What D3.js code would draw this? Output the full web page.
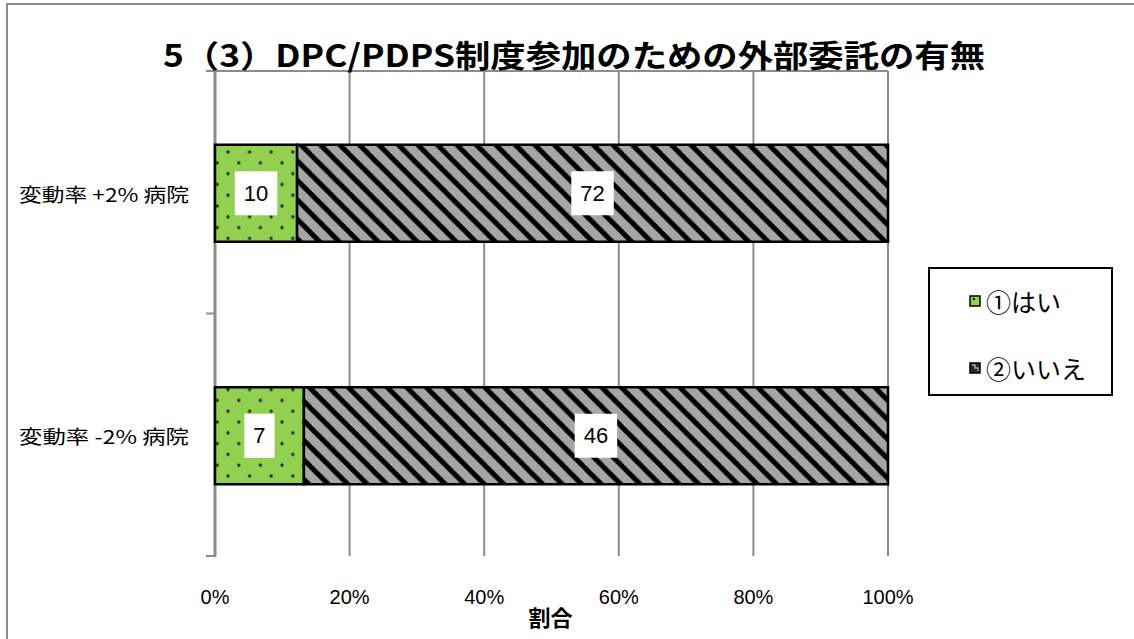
<!DOCTYPE html>
<html>
<head>
<meta charset="utf-8">
<script src="https://cdn.jsdelivr.net/npm/d3@7"></script>
<style>
  html, body { margin: 0; padding: 0; background: #fff; }
  svg { display: block; }
</style>
</head>
<body>
<svg id="chart" width="1134" height="639"></svg>
<script>
// Survey answers: hospitals outsourcing work for DPC/PDPS participation
const chartTitle = "5（3）DPC/PDPS制度参加のための外部委託の有無";
const categories = ["変動率 +2% 病院", "変動率 -2% 病院"];
const seriesNames = ["①はい", "②いいえ"];
const yesCounts = [10, 7];
const noCounts = [72, 46];
const tickValues = [0, 0.2, 0.4, 0.6, 0.8, 1.0];
const xAxisTitle = "割合";

const svg = d3.select("#chart");
const W = 1134, H = 639;
const plot = { left: 215, right: 888, top: 71, bottom: 556 };
const gridColor = "#8c8c8c";
const latin = "'Liberation Sans', Arial, sans-serif";
const cjk = "'Noto Sans CJK JP', 'Noto Sans', sans-serif";

// Fill patterns
const defs = svg.append("defs");
const dots = defs.append("pattern")
  .attr("id", "dots").attr("patternUnits", "userSpaceOnUse")
  .attr("width", 21.6).attr("height", 21.6).attr("x", 228).attr("y", 152);
dots.append("rect").attr("width", 21.6).attr("height", 21.6).attr("fill", "#92D050");
[[0, 0], [21.6, 0], [0, 21.6], [21.6, 21.6], [10.8, 10.8]].forEach(([cx, cy]) =>
  dots.append("circle").attr("cx", cx).attr("cy", cy).attr("r", 1.6).attr("fill", "#1f2a14"));

const P = 19.5;
const stripes = defs.append("pattern")
  .attr("id", "stripes").attr("patternUnits", "userSpaceOnUse")
  .attr("width", P).attr("height", P);
stripes.append("rect").attr("width", P).attr("height", P).attr("fill", "#a6a6a6");
[[-P, 0], [0, 0], [P, 0]].forEach(([dx]) =>
  stripes.append("line")
    .attr("x1", dx - 2).attr("y1", -2).attr("x2", dx + P + 2).attr("y2", P + 2)
    .attr("stroke", "#000").attr("stroke-width", 5));

// Outer chart frame
svg.append("rect").attr("x", 7).attr("y", 4).attr("width", W + 20).attr("height", H + 20)
  .attr("fill", "#fff").attr("stroke", gridColor).attr("stroke-width", 2);

// Scales
const x = d3.scaleLinear().domain([0, 1]).range([plot.left, plot.right]);
const y = d3.scaleBand().domain(categories).range([plot.top, plot.bottom])
  .paddingInner(0.6).paddingOuter(0.3);

// Vertical gridlines
svg.append("g").selectAll("line").data(tickValues).join("line")
  .attr("x1", d => x(d)).attr("x2", d => x(d))
  .attr("y1", plot.top).attr("y2", plot.bottom)
  .attr("stroke", gridColor).attr("stroke-width", 2);

// Horizontal value axis line along the top
svg.append("line")
  .attr("x1", plot.left).attr("x2", plot.right)
  .attr("y1", plot.top).attr("y2", plot.top)
  .attr("stroke", gridColor).attr("stroke-width", 2);

// Category axis with ticks at the band boundaries
const yAxis = svg.append("g");
yAxis.append("line")
  .attr("x1", plot.left).attr("x2", plot.left)
  .attr("y1", plot.top).attr("y2", plot.bottom + 1)
  .attr("stroke", gridColor).attr("stroke-width", 3);
const boundaries = [plot.top, (plot.top + plot.bottom) / 2, plot.bottom];
yAxis.selectAll("line.tick").data(boundaries).join("line").attr("class", "tick")
  .attr("x1", plot.left - 9).attr("x2", plot.left)
  .attr("y1", d => d).attr("y2", d => d)
  .attr("stroke", gridColor).attr("stroke-width", 2);

// Category labels
svg.append("g").selectAll("text").data(categories).join("text")
  .attr("x", 189).attr("y", d => y(d) + y.bandwidth() / 2 + 1)
  .attr("text-anchor", "end").attr("dominant-baseline", "central")
  .attr("font-family", cjk).attr("font-size", 19)
  .attr("textLength", 170).attr("lengthAdjust", "spacingAndGlyphs")
  .attr("fill", "#000").text(d => d);

// Tick labels below the plot
svg.append("g").selectAll("text").data(tickValues).join("text")
  .attr("x", d => x(d)).attr("y", 597)
  .attr("text-anchor", "middle").attr("dominant-baseline", "central")
  .attr("font-family", latin).attr("font-size", 20).attr("fill", "#000")
  .text(d => d3.format(".0%")(d));

// Axis title
svg.append("text").attr("x", (plot.left + plot.right) / 2 - 1).attr("y", 616)
  .attr("text-anchor", "middle").attr("dominant-baseline", "central")
  .attr("font-family", cjk).attr("font-size", 22).attr("font-weight", "bold")
  .attr("fill", "#000").text(xAxisTitle);

// Stacked 100% bars
const rows = categories.map((c, i) => {
  const total = yesCounts[i] + noCounts[i];
  return [
    { cat: c, value: yesCounts[i], x0: 0, x1: yesCounts[i] / total, fill: "url(#dots)" },
    { cat: c, value: noCounts[i], x0: yesCounts[i] / total, x1: 1, fill: "url(#stripes)" }
  ];
}).flat();

svg.append("g").selectAll("rect").data(rows).join("rect")
  .attr("x", d => x(d.x0)).attr("width", d => x(d.x1) - x(d.x0))
  .attr("y", d => y(d.cat) + 1).attr("height", y.bandwidth())
  .attr("fill", d => d.fill).attr("stroke", "#000").attr("stroke-width", 2.5);

// Value labels in white boxes
const labels = svg.append("g").selectAll("g").data(rows).join("g")
  .attr("transform", d => `translate(${(x(d.x0) + x(d.x1)) / 2},${y(d.cat) + y.bandwidth() / 2 + 1})`);
labels.append("text")
  .attr("text-anchor", "middle").attr("dominant-baseline", "central")
  .attr("font-family", latin).attr("font-size", 22).attr("fill", "#000")
  .text(d => d.value)
  .each(function () {
    const b = this.getBBox();
    d3.select(this.parentNode).insert("rect", "text")
      .attr("x", -b.width / 2 - 9).attr("y", -22)
      .attr("width", b.width + 18).attr("height", 44)
      .attr("fill", "#fff");
  });

// Legend
const legend = svg.append("g");
legend.append("rect").attr("x", 929).attr("y", 268).attr("width", 183).attr("height", 127)
  .attr("fill", "#fff").attr("stroke", "#000").attr("stroke-width", 2);
const legendY = [301, 368];
seriesNames.forEach((name, i) => {
  legend.append("rect").attr("x", 970).attr("y", legendY[i] - 5).attr("width", 10).attr("height", 10)
    .attr("fill", i === 0 ? "#92D050" : "#2a2a2a").attr("stroke", "#000").attr("stroke-width", 1.5);
  if (i === 0) {
    legend.append("rect").attr("x", 973).attr("y", legendY[i] - 3).attr("width", 2).attr("height", 2).attr("fill", "#000");
  } else {
    legend.append("path").attr("d", `M${972},${legendY[i] - 3} l3,0 l0,3 l3,0 l0,3`)
      .attr("fill", "none").attr("stroke", "#a6a6a6").attr("stroke-width", 1.5);
  }
  legend.append("text").attr("x", 986).attr("y", legendY[i])
    .attr("dominant-baseline", "central")
    .attr("font-family", cjk).attr("font-size", 25).attr("fill", "#000")
    .text(name);
});

// Title
svg.append("text").attr("x", 574).attr("y", 53)
  .attr("text-anchor", "middle").attr("dominant-baseline", "central")
  .attr("font-family", cjk).attr("font-size", 31).attr("font-weight", "bold")
  .attr("textLength", 822).attr("lengthAdjust", "spacingAndGlyphs")
  .attr("fill", "#000").text(chartTitle);
</script>
</body>
</html>
